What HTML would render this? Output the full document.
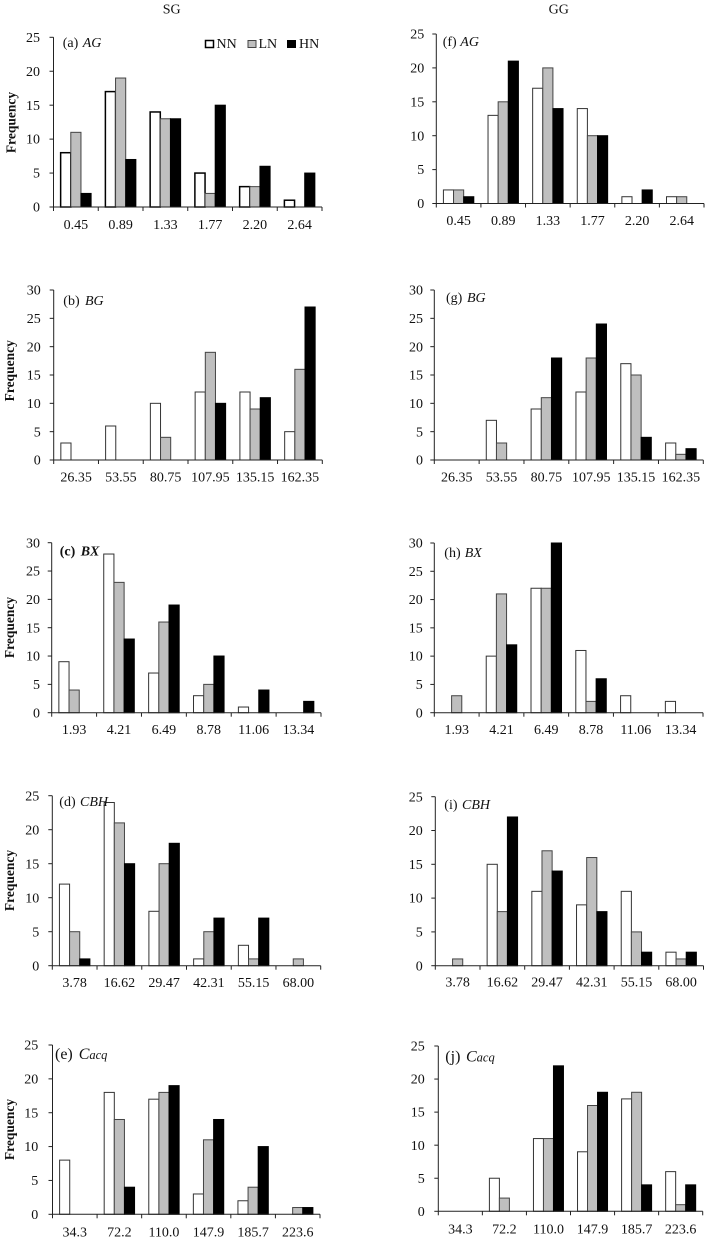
<!DOCTYPE html>
<html lang="en">
<head>
<meta charset="utf-8">
<title>SG and GG frequency histograms</title>
<style>
html,body{margin:0;padding:0;background:#fff;}
svg{display:block;}
text{font-family:"Liberation Serif","Times New Roman",serif;fill:#111;}
</style>
</head>
<body>
<svg id="figure" xmlns="http://www.w3.org/2000/svg" width="705" height="1240" viewBox="0 0 705 1240">
<text x="171.7" y="13.5" font-size="14" text-anchor="middle">SG</text>
<text x="558.7" y="13.5" font-size="14" text-anchor="middle">GG</text>
<g>
<g><rect x="205.5" y="40.5" width="8" height="7" fill="#fff" stroke="#000" stroke-width="1.5"/><text x="216.5" y="48" font-size="14">NN</text></g>
<g><rect x="248" y="40.5" width="8" height="7" fill="#bfbfbf" stroke="#444" stroke-width="1"/><text x="258.5" y="48" font-size="14">LN</text></g>
<g><rect x="287.5" y="40.5" width="8" height="7" fill="#000" stroke="#000" stroke-width="1"/><text x="299" y="48" font-size="14">HN</text></g>
</g>
</svg>
<script>
const catsAG = ["0.45","0.89","1.33","1.77","2.20","2.64"];
const catsBG = ["26.35","53.55","80.75","107.95","135.15","162.35"];
const catsBX = ["1.93","4.21","6.49","8.78","11.06","13.34"];
const catsCBH = ["3.78","16.62","29.47","42.31","55.15","68.00"];
const catsCacq = ["34.3","72.2","110.0","147.9","185.7","223.6"];
const ticks25 = [0,5,10,15,20,25];
const ticks30 = [0,5,10,15,20,25,30];

const nnA = [8,17,14,5,3,1];
const lnA = [11,19,13,2,3,0];
const hnA = [2,7,13,15,6,5];
const nnB = [3,6,10,12,12,5];
const lnB = [0,0,4,19,9,16];
const hnB = [0,0,0,10,11,27];
const nnC = [9,28,7,3,1,0];
const lnC = [4,23,16,5,0,0];
const hnC = [0,13,19,10,4,2];
const nnD = [12,24,8,1,3,0];
const lnD = [5,21,15,5,1,1];
const hnD = [1,15,18,7,7,0];
const nnE = [8,18,17,3,2,0];
const lnE = [0,14,18,11,4,1];
const hnE = [0,4,19,14,10,1];
const nnF = [2,13,17,14,1,1];
const lnF = [2,15,20,10,0,1];
const hnF = [1,21,14,10,2,0];
const nnG = [0,7,9,12,17,3];
const lnG = [0,3,11,18,15,1];
const hnG = [0,0,18,24,4,2];
const nnH = [0,10,22,11,3,2];
const lnH = [3,21,22,2,0,0];
const hnH = [0,12,30,6,0,0];
const nnI = [0,15,11,9,11,2];
const lnI = [1,8,17,16,5,1];
const hnI = [0,22,14,8,2,2];
const nnJ = [0,5,11,9,17,6];
const lnJ = [0,2,11,16,18,1];
const hnJ = [0,0,22,18,4,4];

const panels = [
 {id:"a",pre:"(a)",name:"AG",cats:catsAG,ticks:ticks25,nn:nnA,ln:lnA,hn:hnA,x0:53.5,x1:322,top:37.3,bot:207,yl:40,xl:224.3,lx:62.7,nx:82.7,ly:47,fx:11,fy:122.5,thick:true},
 {id:"b",pre:"(b)",name:"BG",cats:catsBG,ticks:ticks30,nn:nnB,ln:lnB,hn:hnB,x0:53.7,x1:322.3,top:290,bot:460,yl:40.7,xl:476.7,lx:63.3,nx:85,ly:305.2,fx:9.5,fy:370.8},
 {id:"c",pre:"(c)",name:"BX",cats:catsBX,ticks:ticks30,nn:nnC,ln:lnC,hn:hnC,x0:51.7,x1:321,top:542.7,bot:712.7,yl:40,xl:729.3,lx:59.7,nx:80.7,ly:555.5,fx:9.5,fy:627.5,bold:true},
 {id:"d",pre:"(d)",name:"CBH",cats:catsCBH,ticks:ticks25,nn:nnD,ln:lnD,hn:hnD,x0:52.3,x1:320.7,top:795.7,bot:965.7,yl:39.3,xl:982.3,lx:59.3,nx:80,ly:806.2,fx:9.5,fy:880.5},
 {id:"e",pre:"(e)",name:"C",sub:"acq",cats:catsCacq,ticks:ticks25,nn:nnE,ln:lnE,hn:hnE,x0:52.5,x1:320,top:1045,bot:1214.3,yl:38.3,xl:1231.7,lx:55,nx:78.7,ly:1059,fx:9.5,fy:1129.5,big:true},
 {id:"f",pre:"(f)",name:"AG",cats:catsAG,ticks:ticks25,nn:nnF,ln:lnF,hn:hnF,x0:436.3,x1:704,top:34,bot:203.5,yl:424.3,xl:220.3,lx:442.7,nx:460.3,ly:46.2},
 {id:"g",pre:"(g)",name:"BG",cats:catsBG,ticks:ticks30,nn:nnG,ln:lnG,hn:hnG,x0:434.3,x1:703.3,top:290,bot:460,yl:423,xl:476.7,lx:446,nx:467,ly:301.8},
 {id:"h",pre:"(h)",name:"BX",cats:catsBX,ticks:ticks30,nn:nnH,ln:lnH,hn:hnH,x0:434.3,x1:703,top:543,bot:712.7,yl:422.7,xl:729.3,lx:444.3,nx:464.7,ly:556.8},
 {id:"i",pre:"(i)",name:"CBH",cats:catsCBH,ticks:ticks25,nn:nnI,ln:lnI,hn:hnI,x0:435.3,x1:703.5,top:796.7,bot:965.7,yl:422.7,xl:981.7,lx:444.3,nx:462,ly:808.8},
 {id:"j",pre:"(j)",name:"C",sub:"acq",cats:catsCacq,ticks:ticks25,nn:nnJ,ln:lnJ,hn:hnJ,x0:438.3,x1:702.7,top:1046,bot:1211.3,yl:424.7,xl:1229,lx:445.3,nx:466,ly:1061.5,big:true}
];

const SVGNS = "http://www.w3.org/2000/svg";
const root = document.getElementById("figure");

function make(tag, attrs, parent, content) {
  const el = document.createElementNS(SVGNS, tag);
  for (const k in attrs) el.setAttribute(k, attrs[k]);
  if (content !== undefined) el.textContent = content;
  parent.appendChild(el);
  return el;
}

function xScale(p, i) {
  return p.x0 + (p.x1 - p.x0) * i / p.cats.length;
}

function yScale(p, v) {
  const max = p.ticks[p.ticks.length - 1];
  return p.bot - (p.bot - p.top) * v / max;
}

function drawPanel(p) {
  const g = make("g", {}, root);
  
  

  const catW = (p.x1 - p.x0) / p.cats.length;
  const barW = catW * 0.227;
  const series = [
    {key:"nn", values:p.nn, fill:"#fff", stroke:p.thick ? "#000" : "#333", sw:p.thick ? 1.5 : 1},
    {key:"ln", values:p.ln, fill:"#bfbfbf", stroke:"#444", sw:1},
    {key:"hn", values:p.hn, fill:"#000", stroke:"#000", sw:1}
  ];

  series.forEach(function (s, si) {
    s.values.forEach(function (v, i) {
      const left = xScale(p, i) + (catW - 3 * barW) / 2 + si * barW;
      const y = yScale(p, v);
      const bar = make("rect", {
        x: left.toFixed(2),
        y: y.toFixed(2),
        width: barW.toFixed(2),
        height: (p.bot - y).toFixed(2),
        fill: s.fill,
        stroke: v > 0 ? s.stroke : "none",
        "stroke-width": s.sw
      }, g);
      
      
    });
  });

  const yAxis = make("line", {x1:p.x0, x2:p.x0, y1:p.top, y2:p.bot, stroke:"#222", "stroke-width":1}, g);
  
  

  const xAxis = make("line", {x1:p.x0, x2:p.x1, y1:p.bot, y2:p.bot, stroke:"#222", "stroke-width":1}, g);
  
  

  p.ticks.forEach(function (t) {
    const y = yScale(p, t);
    const tick = make("line", {x1:p.x0 - 4, x2:p.x0, y1:y, y2:y, stroke:"#222", "stroke-width":1}, g);
    
    
    const label = make("text", {x:p.yl, y:y + 4.6, "font-size":14, "text-anchor":"end"}, g, String(t));
    
    
  });

  for (let i = 0; i <= p.cats.length; i++) {
    const x = xScale(p, i);
    const tick = make("line", {x1:x, x2:x, y1:p.bot, y2:p.bot + 4, stroke:"#222", "stroke-width":1}, g);
    
    
  }

  p.cats.forEach(function (c, i) {
    const label = make("text", {x:xScale(p, i) + catW / 2, y:p.xl + 4.7, "font-size":14, "text-anchor":"middle"}, g, c);
    
    
  });

  const fs = p.big ? 16 : 14;
  const title = make("text", {x:p.lx, y:p.ly, "font-size":fs, "font-weight":p.bold ? "bold" : "normal"}, g, p.pre);
  
  
  make("tspan", {x:p.nx, "font-style":"italic"}, title, p.name);
  if (p.sub) {
    make("tspan", {"font-style":"italic", "font-size":12.5}, title, p.sub);
  }

  if (p.fx !== undefined) {
    const yTitle = make("text", {
      transform: "translate(" + (p.fx + 4.5) + "," + p.fy + ") rotate(-90)",
      "font-size": 13.5,
      "font-weight": "bold",
      "text-anchor": "middle"
    }, g, "Frequency");
    
    
  }
}

panels.forEach(drawPanel);
</script>
</body>
</html>
